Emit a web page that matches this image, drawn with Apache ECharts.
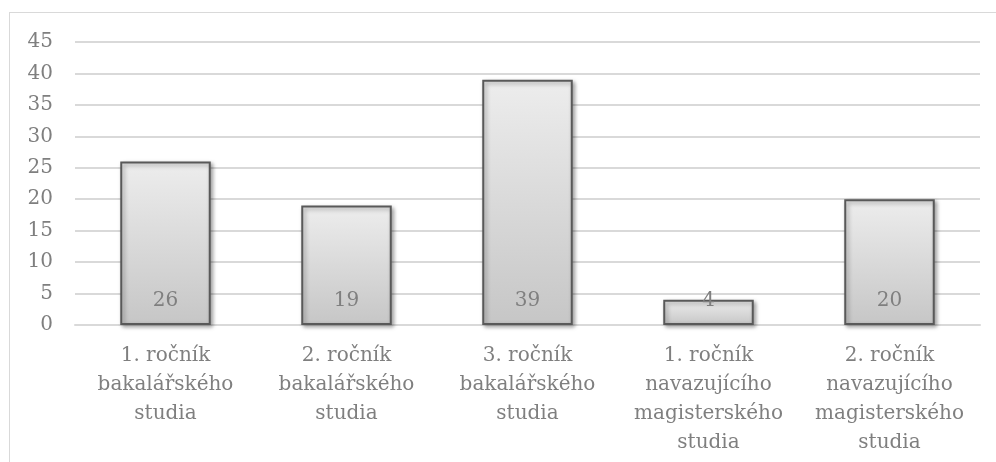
<!DOCTYPE html>
<html>
<head>
<meta charset="utf-8">
<script src="https://cdn.jsdelivr.net/npm/echarts@6/dist/echarts.min.js"></script>
<style>
  html, body { margin: 0; padding: 0; background: #fff; }
  .frame {
    position: absolute; left: 9px; top: 12px; width: 990px; height: 460px;
    border-top: 1px solid #d9d9d9; border-left: 1px solid #d9d9d9;
  }
  #chart { position: absolute; left: 0; top: 0; width: 996px; height: 462px; }
</style>
</head>
<body>
<div class="frame"></div>
<div id="chart"></div>
<script>
// categories and values
const categories = [
  "1. ročník\nbakalářského\nstudia",
  "2. ročník\nbakalářského\nstudia",
  "3. ročník\nbakalářského\nstudia",
  "1. ročník\nnavazujícího\nmagisterského\nstudia",
  "2. ročník\nnavazujícího\nmagisterského\nstudia"
];
const values = [26, 19, 39, 4, 20];
const yTicks = [0, 5, 10, 15, 20, 25, 30, 35, 40, 45];

const font = "'DejaVu Serif', serif";
const chart = echarts.init(document.getElementById("chart"));
chart.setOption({
  animation: false,
  grid: { left: 75, right: 16, top: 42, bottom: 137 },
  xAxis: {
    type: "category",
    data: categories,
    axisTick: { show: false },
    axisLine: { show: true, lineStyle: { color: "#d9d9d9", width: 2 } },
    axisLabel: {
      interval: 0,
      margin: 16,
      color: "#7f7f7f",
      fontFamily: font,
      fontSize: 20,
      lineHeight: 29
    }
  },
  yAxis: {
    type: "value",
    min: yTicks[0],
    max: yTicks[yTicks.length - 1],
    interval: 5,
    axisLine: { show: false },
    axisTick: { show: false },
    axisLabel: { color: "#7f7f7f", fontFamily: font, fontSize: 20, margin: 22 },
    splitLine: { lineStyle: { color: "#d9d9d9", width: 2 } }
  },
  series: [
    {
      type: "bar",
      data: values,
      barWidth: "50%",
      itemStyle: {
        color: new echarts.graphic.LinearGradient(0, 0, 0, 1, [
          { offset: 0, color: "#ededed" },
          { offset: 1, color: "#c6c6c6" }
        ]),
        borderColor: "#595959",
        borderWidth: 2,
        shadowColor: "rgba(0,0,0,0.35)",
        shadowBlur: 4,
        shadowOffsetX: 2,
        shadowOffsetY: 2
      },
      label: {
        show: true,
        position: "insideBottom",
        distance: 14,
        color: "#7f7f7f",
        fontFamily: font,
        fontSize: 20
      }
    }
  ]
});
</script>
</body>
</html>
